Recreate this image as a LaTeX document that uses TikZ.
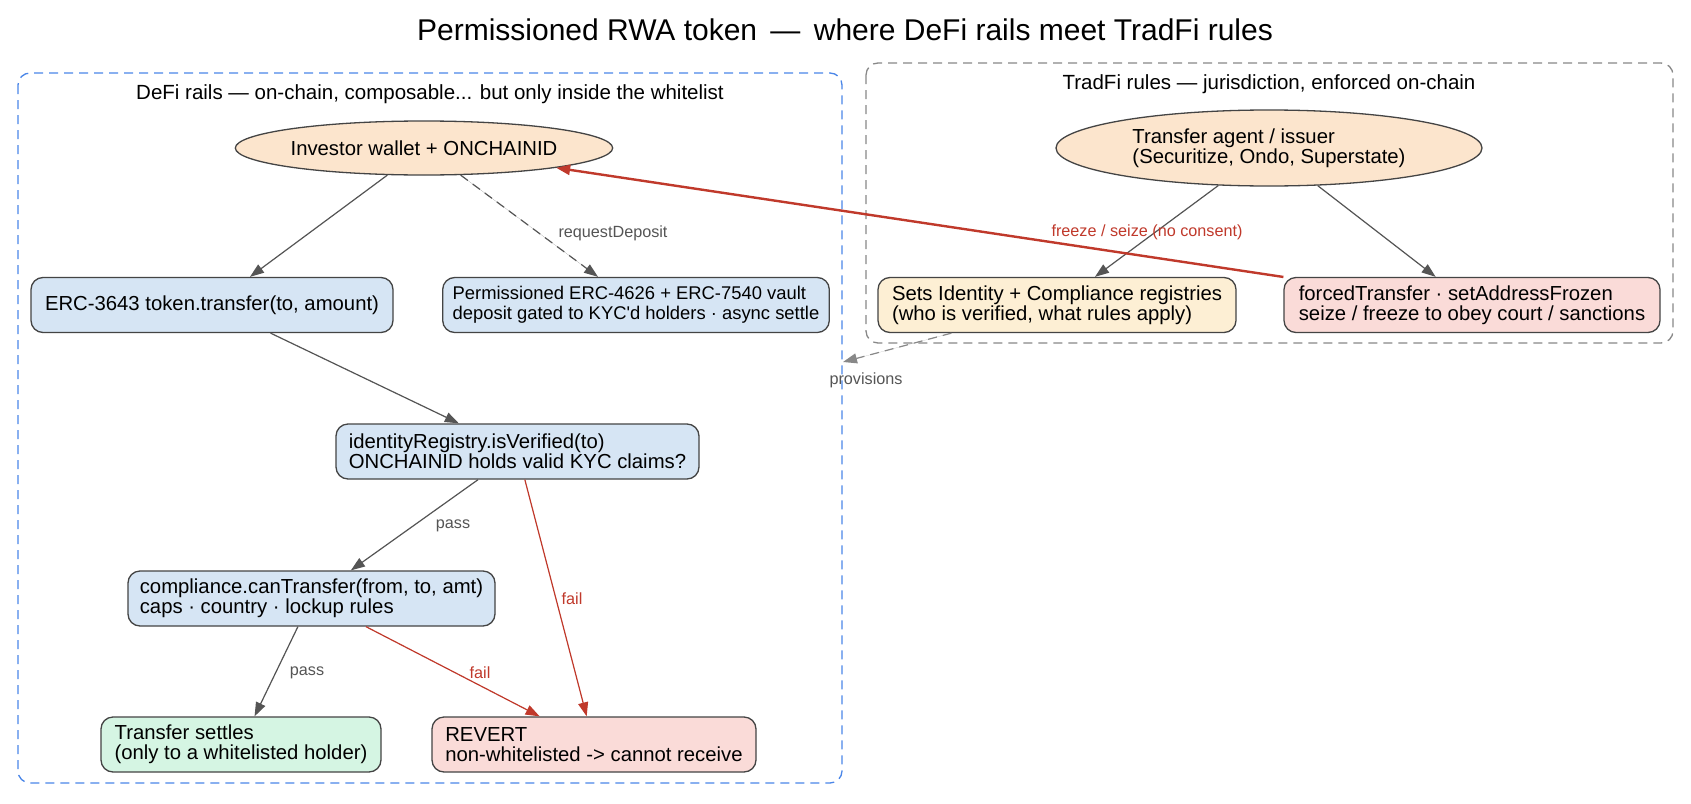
\documentclass[tikz,border=0pt]{standalone}
\usepackage{fontspec}
\setmainfont{Liberation Sans}
\usetikzlibrary{arrows.meta,shapes.geometric}
\definecolor{peach}{HTML}{FCE5CD}
\definecolor{bluebox}{HTML}{D6E5F4}
\definecolor{cream}{HTML}{FDEFD4}
\definecolor{pinkbox}{HTML}{FADBD8}
\definecolor{greenbox}{HTML}{D5F5E3}
\definecolor{bord}{HTML}{444444}
\definecolor{gedge}{HTML}{555555}
\definecolor{redc}{HTML}{C0392B}
\definecolor{clblue}{HTML}{4A86E8}
\definecolor{clgray}{HTML}{888888}
\newcommand\fNode{\fontsize{20.3}{19.8}\selectfont}
\newcommand\fSmall{\fontsize{18.4}{19.8}\selectfont}
\newcommand\fEdge{\fontsize{16.2}{18}\selectfont}
\newcommand\fClus{\fontsize{20.5}{22}\selectfont}
\newcommand\fTitle{\fontsize{30}{34}\selectfont}
\begin{document}
\begin{tikzpicture}[x=1pt,y=-1pt,
  nd/.style={draw=bord, line width=1.3pt, font=\fNode, inner sep=0pt, text=black},
  bx/.style={nd, rectangle, rounded corners=12pt, minimum height=55pt, align=left, inner xsep=10pt},
  el/.style={nd, ellipse, fill=peach, align=left},
  arr/.style={-{Triangle[length=14pt,width=10pt]}},
  gline/.style={arr, draw=gedge, fill=gedge, line width=1.2pt},
  rline/.style={arr, draw=redc, fill=redc, line width=1.2pt},
  elab/.style={font=\fEdge, text=gedge, inner sep=1pt},
  rlab/.style={font=\fEdge, text=redc, inner sep=1pt},
  clab/.style={font=\fClus, text=black, anchor=base},
  clusterbox/.style={line width=1.3pt, dash pattern=on 9pt off 6pt, rounded corners=12pt},
]
\useasboundingbox (0,0) rectangle (1691,803);
\fill[white] (0,0) rectangle (1691,803);

% title
\node[font=\fTitle, anchor=base] (title) at (845,40) {Permissioned RWA token \,—\, where DeFi rails meet TradFi rules};

% clusters
\draw[clusterbox, draw=clblue] (18,73) rectangle (842,783);
\draw[clusterbox, draw=clgray] (866,63) rectangle (1673,343);
\node[clab] (ldefi) at (430,99) {DeFi rails — on-chain, composable... but only inside the whitelist};
\node[clab] (ltradfi) at (1269,89) {TradFi rules — jurisdiction, enforced on-chain};

% DeFi nodes
\node[el, minimum width=366pt, minimum height=54pt] (inv) at (424,148) {Investor wallet + ONCHAINID};
\node[bx, fill=bluebox, minimum width=362pt] (erc) at (212,305) {ERC-3643 token.transfer(to, amount)};
\node[bx, fill=bluebox, minimum width=386pt, font=\fSmall] (vault) at (636,305) {Permissioned ERC-4626 + ERC-7540 vault\\deposit gated to KYC\textquotesingle d holders · async settle};
\node[bx, fill=bluebox, minimum width=363pt] (ident) at (517.5,451.5) {identityRegistry.isVerified(to)\\ONCHAINID holds valid KYC claims?};
\node[bx, fill=bluebox, minimum width=367pt] (compl) at (311.5,598.5) {compliance.canTransfer(from, to, amt)\\caps · country · lockup rules};
\node[bx, fill=greenbox, minimum width=280pt] (settle) at (241,744.5) {Transfer settles\\(only to a whitelisted holder)};
\node[bx, fill=pinkbox, minimum width=324pt] (revert) at (594,744.5) {REVERT\\non-whitelisted -> cannot receive};

% TradFi nodes
\node[el, minimum width=426pt, minimum height=76pt] (agent) at (1269,148) {Transfer agent / issuer\\(Securitize, Ondo, Superstate)};
\node[bx, fill=cream, minimum width=358pt] (sets) at (1057,305) {Sets Identity + Compliance registries\\(who is verified, what rules apply)};
\node[bx, fill=pinkbox, minimum width=376pt] (forced) at (1472,305) {forcedTransfer · setAddressFrozen\\seize / freeze to obey court / sanctions};

% edges
\draw[gline] (inv) -- (erc);
\draw[gline, dash pattern=on 9pt off 6pt] (inv) -- (vault);
\draw[gline] (erc) -- (ident);
\draw[gline] (ident) -- (compl);
\draw[rline] (ident) -- (revert);
\draw[gline] (compl) -- (settle);
\draw[rline] (compl) -- (revert);
\draw[gline] (agent) -- (sets);
\draw[gline] (agent) -- (forced);
\coordinate (provend) at (843,362);
\draw[arr, draw=clgray, fill=clgray, line width=1.2pt, dash pattern=on 9pt off 6pt] (sets) -- (provend);
\draw[rline, line width=2.4pt] (forced) -- (inv);

% edge labels
\node[elab] (lreq) at (613,233) {requestDeposit};
\node[elab] (lpass1) at (453,526) {pass};
\node[rlab] (lfail1) at (572,599) {fail};
\node[elab] (lpass2) at (307,673) {pass};
\node[rlab] (lfail2) at (480,673) {fail};
\node[rlab] (lfreeze) at (1147,232) {freeze / seize (no consent)};
\node[elab] (lprov) at (866,380) {provisions};
\end{tikzpicture}
\end{document}
